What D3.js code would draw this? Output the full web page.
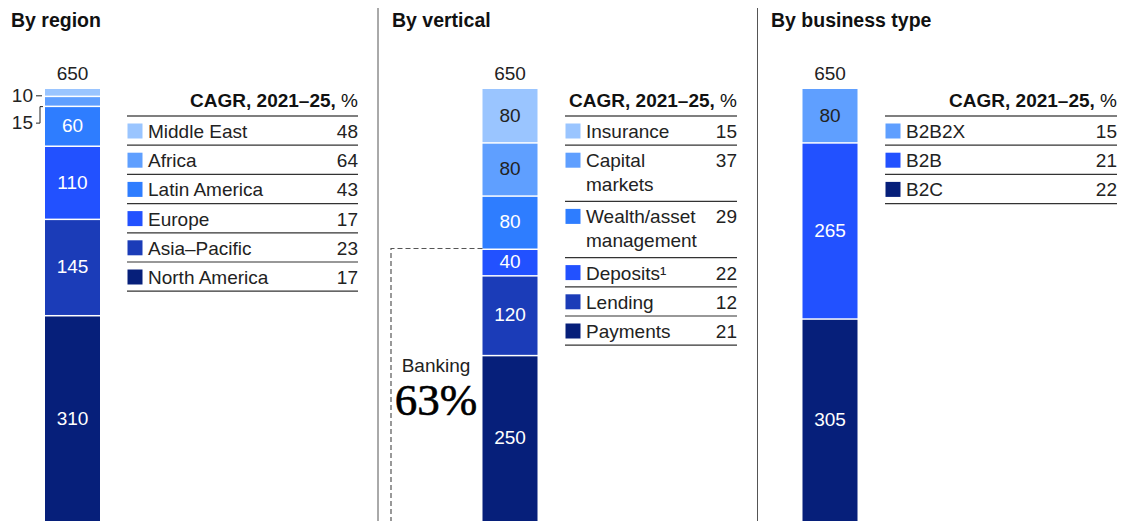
<!DOCTYPE html>
<html>
<head>
<meta charset="utf-8">
<script src="https://cdn.jsdelivr.net/npm/d3@7"></script>
<style>
  body { margin: 0; background: #fff; }
  svg { display: block; font-family: "Liberation Sans", Arial, sans-serif; }
</style>
</head>
<body>
<script>
// Data
//= ================================
var total = 650;

// stack order: bottom -> top
var regionNames = ["North America", "Asia–Pacific", "Europe", "Latin America", "Africa", "Middle East"];
var regionValues = [310, 145, 110, 60, 15, 10];
var regionCagr = [17, 23, 17, 43, 64, 48];

var verticalNames = ["Payments", "Lending", "Deposits¹", "Wealth/asset management", "Capital markets", "Insurance"];
var verticalValues = [250, 120, 40, 80, 80, 80];
var verticalCagr = [21, 12, 22, 29, 37, 15];
var bankingNames = ["Payments", "Lending", "Deposits¹"];

var businessNames = ["B2C", "B2B", "B2B2X"];
var businessValues = [305, 265, 80];
var businessCagr = [22, 21, 15];

// Set up
//= ================================
var width = 1126, height = 521;
var barW = 55;
var txt = "#222";

var svg = d3.select("body")
    .append("svg")
    .attr("width", width)
    .attr("height", height);

var y = d3.scaleLinear()
    .domain([0, total])
    .range([height, 89]);

var blues = ["#061f7a", "#1b3cb8", "#2251ff", "#2e7dff", "#5f9fff", "#9ac5ff"];

var panels = [
  {title: "By region", names: regionNames, values: regionValues, cagr: regionCagr,
   colors: blues, tx: 11, bx: 45, lx0: 127, lx1: 358, wrapW: 190},
  {title: "By vertical", names: verticalNames, values: verticalValues, cagr: verticalCagr,
   colors: blues, tx: 392, bx: 482.5, lx0: 565, lx1: 737, wrapW: 118},
  {title: "By business type", names: businessNames, values: businessValues, cagr: businessCagr,
   colors: [blues[0], blues[2], blues[4]], tx: 771, bx: 802.5, lx0: 885, lx1: 1117, wrapW: 190}
];

// dividers
[378, 757.5].forEach(function(x) {
  svg.append("line")
    .attr("x1", x).attr("x2", x)
    .attr("y1", 8).attr("y2", height)
    .attr("stroke", "#555").attr("stroke-width", 1);
});

function wrap(textSel, str, maxW) {
  var words = str.split(" "), line = [], lines = [];
  var tspan = textSel.append("tspan");
  words.forEach(function(w) {
    line.push(w);
    tspan.text(line.join(" "));
    if (tspan.node().getComputedTextLength() > maxW && line.length > 1) {
      line.pop();
      lines.push(line.join(" "));
      line = [w];
    }
  });
  lines.push(line.join(" "));
  tspan.remove();
  var x = textSel.attr("x");
  lines.forEach(function(l, i) {
    textSel.append("tspan").attr("x", x).attr("dy", i === 0 ? 0 : 24).text(l);
  });
  return lines.length;
}

panels.forEach(function(p) {
  var g = svg.append("g");

  g.append("text")
    .attr("x", p.tx).attr("y", 27)
    .attr("font-size", 19.5).attr("font-weight", "bold")
    .attr("fill", "#111")
    .text(p.title);

  var row = {};
  p.names.forEach(function(n, i) { row[n] = p.values[i]; });
  var stacked = d3.stack().keys(p.names)([row]);

  var color = d3.scaleOrdinal().domain(p.names).range(p.colors);
  var last = stacked.length - 1;

  // Show the bars
  var seg = g.selectAll("g.seg")
    .data(stacked)
    .enter().append("g").attr("class", "seg");

  seg.append("rect")
    .attr("x", p.bx)
    .attr("width", barW)
    .attr("y", function(d, i) { return y(d[0][1]) + (i === last ? 0 : 1.5); })
    .attr("height", function(d, i) { return y(d[0][0]) - y(d[0][1]) - (i === last ? 0 : 1.5); })
    .attr("fill", function(d) { return color(d.key); });

  seg.filter(function(d) { return y(d[0][0]) - y(d[0][1]) > 20; })
    .append("text")
    .attr("x", p.bx + barW / 2)
    .attr("y", function(d) { return (y(d[0][0]) + y(d[0][1])) / 2 + 1.5; })
    .attr("text-anchor", "middle")
    .attr("dominant-baseline", "middle")
    .attr("font-size", 19)
    .attr("fill", function(d) { return d3.lab(color(d.key)).l > 58 ? txt : "#fff"; })
    .text(function(d) { return d[0][1] - d[0][0]; });

  // total on top
  g.append("text")
    .attr("x", p.bx + barW / 2).attr("y", 80)
    .attr("text-anchor", "middle").attr("font-size", 19).attr("fill", txt)
    .text(d3.sum(p.values));

  // small segments labelled outside
  var small = stacked.filter(function(d) { return y(d[0][0]) - y(d[0][1]) <= 20; }).reverse();
  small.forEach(function(d, k) {
    var cy = (y(d[0][0]) + y(d[0][1])) / 2 + 3.5 + k * 2.5;
    var ly = cy + k * 16.5;
    if (k === 0) {
      g.append("line").attr("x1", p.bx - 9).attr("x2", p.bx - 3)
        .attr("y1", cy).attr("y2", cy).attr("stroke", txt);
    } else {
      g.append("path")
        .attr("d", "M" + (p.bx - 2) + "," + cy + "H" + (p.bx - 5) + "V" + ly + "H" + (p.bx - 9))
        .attr("fill", "none").attr("stroke", txt);
    }
    g.append("text")
      .attr("x", p.bx - 12).attr("y", ly + 1)
      .attr("text-anchor", "end").attr("dominant-baseline", "middle")
      .attr("font-size", 19).attr("fill", txt)
      .text(d[0][1] - d[0][0]);
  });

  // Legend table
  var lg = g.append("g");
  var head = lg.append("text")
    .attr("x", p.lx1).attr("y", 106.5)
    .attr("text-anchor", "end").attr("font-size", 19).attr("fill", "#111");
  head.append("tspan").attr("font-weight", "bold").text("CAGR, 2021–25,");
  head.append("tspan").text(" %");

  var top = 116;
  lg.append("line").attr("x1", p.lx0).attr("x2", p.lx1)
    .attr("y1", top).attr("y2", top).attr("stroke", "#555").attr("stroke-width", 1.3);

  p.names.slice().reverse().forEach(function(n) {
    var i = p.names.indexOf(n);
    lg.append("rect")
      .attr("x", p.lx0 + 0.5).attr("y", top + 7.5)
      .attr("width", 15).attr("height", 15)
      .attr("fill", color(n));
    var t = lg.append("text")
      .attr("x", p.lx0 + 21).attr("y", top + 22)
      .attr("font-size", 19).attr("fill", txt);
    var nLines = wrap(t, n, p.wrapW);
    lg.append("text")
      .attr("x", p.lx1).attr("y", top + 22)
      .attr("text-anchor", "end").attr("font-size", 19).attr("fill", txt)
      .text(p.cagr[i]);
    top += 29.2 + (nLines - 1) * 27;
    lg.append("line").attr("x1", p.lx0).attr("x2", p.lx1)
      .attr("y1", top).attr("y2", top).attr("stroke", "#333").attr("stroke-width", 1.2);
  });

  // Banking bracket on the vertical panel
  if (p.names === verticalNames) {
    var bankSum = d3.sum(bankingNames, function(n) { return p.values[p.names.indexOf(n)]; });
    var by = y(bankSum);
    g.append("path")
      .attr("d", "M" + p.bx + "," + by + "H391V" + height)
      .attr("fill", "none").attr("stroke", "#555")
      .attr("stroke-dasharray", "5,3").attr("stroke-width", 1.2);
    g.append("text")
      .attr("x", 436).attr("y", 372)
      .attr("text-anchor", "middle").attr("font-size", 19).attr("fill", txt)
      .text("Banking");
    g.append("text")
      .attr("x", 436).attr("y", 415)
      .attr("text-anchor", "middle")
      .attr("font-family", "'Liberation Serif', 'Times New Roman', serif")
      .attr("font-size", 45).attr("fill", "#000")
      .attr("stroke", "#000").attr("stroke-width", 0.6)
      .text(Math.round(bankSum / total * 100) + "%");
  }
});
</script>
</body>
</html>
